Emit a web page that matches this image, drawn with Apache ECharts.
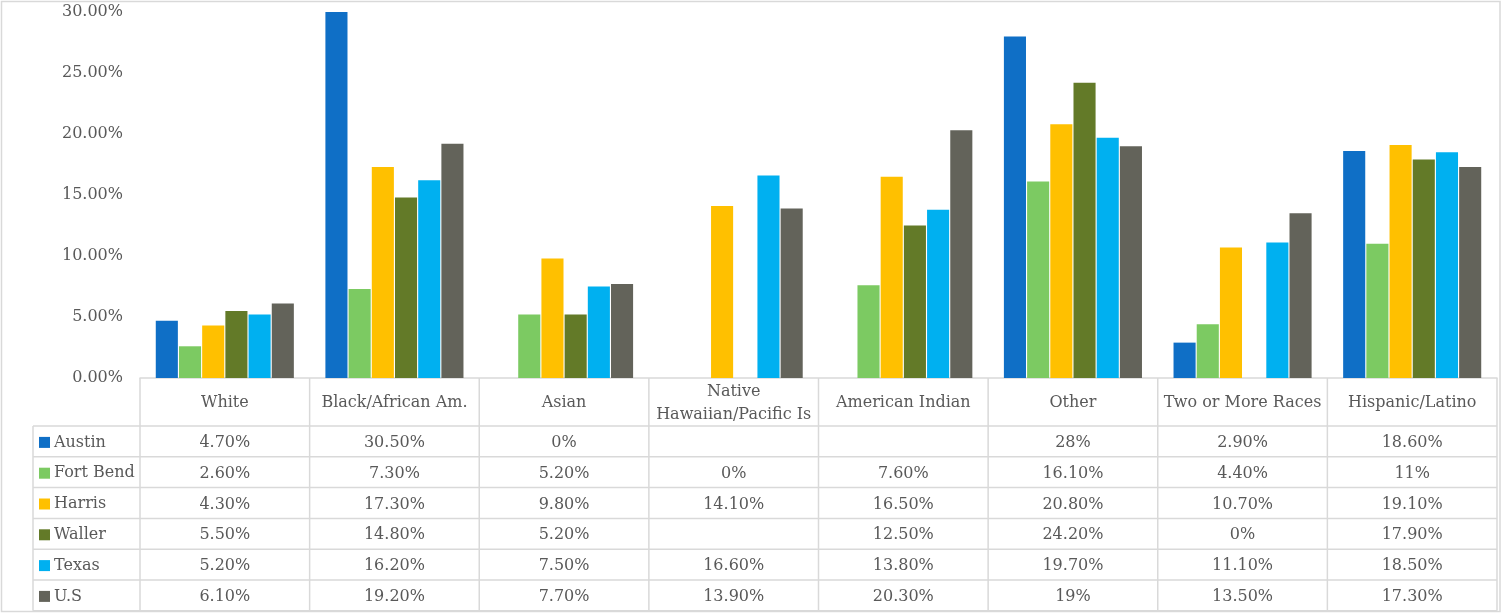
<!DOCTYPE html>
<html>
<head>
<meta charset="utf-8">
<script src="https://cdn.jsdelivr.net/npm/echarts@6/dist/echarts.min.js"></script>
<style>
  html, body { margin: 0; padding: 0; background: #fff; }
  #chart { width: 1502px; height: 613px; }
</style>
</head>
<body>
<div id="chart"></div>
<script>
// ---- data ----
const categories = ['White', 'Black/African Am.', 'Asian', 'Native\nHawaiian/Pacific Is', 'American Indian', 'Other', 'Two or More Races', 'Hispanic/Latino'];
const seriesNames = ['Austin', 'Fort Bend', 'Harris', 'Waller', 'Texas', 'U.S'];
const austin   = [4.7, 30.5, 0, null, null, 28, 2.9, 18.6];
const fortBend = [2.6, 7.3, 5.2, 0, 7.6, 16.1, 4.4, 11];
const harris   = [4.3, 17.3, 9.8, 14.1, 16.5, 20.8, 10.7, 19.1];
const waller   = [5.5, 14.8, 5.2, null, 12.5, 24.2, 0, 17.9];
const texas    = [5.2, 16.2, 7.5, 16.6, 13.8, 19.7, 11.1, 18.5];
const us       = [6.1, 19.2, 7.7, 13.9, 20.3, 19, 13.5, 17.3];
const colors = ['#0F6FC6', '#7CCA62', '#FFC000', '#637A28', '#00B0F0', '#63635A'];
const yMin = 0, yMax = 30, yInterval = 5;

const seriesData = [austin, fortBend, harris, waller, texas, us];
const FONT = '"DejaVu Serif", serif';
const TXT = '#595959';
const LINE = '#d9d9d9';

function fmt(v) {
  if (v === null || v === undefined) return '';
  return Number.isInteger(v) ? v + '%' : v.toFixed(2) + '%';
}

const chart = echarts.init(document.getElementById('chart'));

const gridLeft = 140, gridRight = 5, gridTop = 12, gridBottom = 235;
const headerH = 48;
const rowH = 30.8;
const legendLeftX = 33;

chart.setOption({
  animation: false,
  color: colors,
  textStyle: { fontFamily: FONT },
  grid: { left: gridLeft, right: gridRight, top: gridTop, bottom: gridBottom, containLabel: false },
  legend: {
    orient: 'vertical',
    left: 39,
    top: 378 + headerH + (rowH - 20) / 2 + 1,
    height: 200,
    padding: 0,
    icon: 'rect',
    itemWidth: 11,
    itemHeight: 11,
    itemGap: rowH - 20,
    selectedMode: false,
    textStyle: { fontFamily: FONT, fontSize: 16, color: TXT, lineHeight: 20, padding: [0, 0, 0, -1] },
    data: seriesNames
  },
  xAxis: {
    type: 'category',
    data: categories,
    axisLine: { show: true, lineStyle: { color: LINE, width: 1.5 } },
    axisTick: { show: false },
    axisLabel: {
      interval: 0,
      margin: 25,
      verticalAlign: 'middle',
      fontFamily: FONT,
      fontSize: 16,
      color: TXT,
      lineHeight: 23
    }
  },
  yAxis: {
    type: 'value',
    min: yMin,
    max: yMax,
    interval: yInterval,
    axisLine: { show: false },
    axisTick: { show: false },
    splitLine: { show: false },
    axisLabel: {
      margin: 17,
      fontFamily: FONT,
      fontSize: 16,
      color: TXT,
      padding: [3, 0, 0, 0],
      formatter: v => v.toFixed(2) + '%'
    }
  },
  series: seriesNames.map((name, i) => ({
    name: name,
    type: 'bar',
    data: seriesData[i],
    barGap: '5%',
    barCategoryGap: '18.6%',
    clip: true,
    itemStyle: { color: colors[i] }
  }))
});

// ---- data table below the plot ----
function buildTable() {
  const graphics = [];
  const axisY = 613 - gridBottom;           // 378
  const right = 1502 - gridRight;           // 1497
  const tableBottom = axisY + headerH + rowH * seriesNames.length;
  const half = (right - gridLeft) / categories.length / 2;
  const centers = categories.map((c, i) => chart.convertToPixel({ xAxisIndex: 0 }, i));

  const line = (x1, y1, x2, y2) => ({
    type: 'line', silent: true,
    shape: { x1, y1, x2, y2 },
    style: { stroke: LINE, lineWidth: 1.5 }
  });

  // vertical column boundaries
  const bounds = [gridLeft].concat(centers.map(c => c + half));
  bounds.forEach(x => graphics.push(line(x, axisY, x, tableBottom)));
  // legend column left border
  graphics.push(line(legendLeftX, axisY + headerH, legendLeftX, tableBottom));
  // horizontal row lines
  for (let r = 0; r <= seriesNames.length; r++) {
    const y = axisY + headerH + r * rowH;
    graphics.push(line(legendLeftX, y, right, y));
  }
  // cell values
  seriesData.forEach((arr, r) => {
    const cy = axisY + headerH + r * rowH + rowH / 2;
    arr.forEach((v, c) => {
      const t = fmt(v);
      if (!t) return;
      graphics.push({
        type: 'text', silent: true,
        x: centers[c], y: cy + 1.5,
        style: { text: t, fill: TXT, fontSize: 16, fontFamily: FONT, align: 'center', verticalAlign: 'middle' }
      });
    });
  });
  // outer chart border
  graphics.push({
    type: 'rect', silent: true,
    shape: { x: 1.5, y: 1.5, width: 1498.5, height: 610 },
    style: { fill: 'none', stroke: LINE, lineWidth: 1.5 }
  });
  chart.setOption({ graphic: { elements: graphics } });
}
buildTable();
</script>
</body>
</html>
